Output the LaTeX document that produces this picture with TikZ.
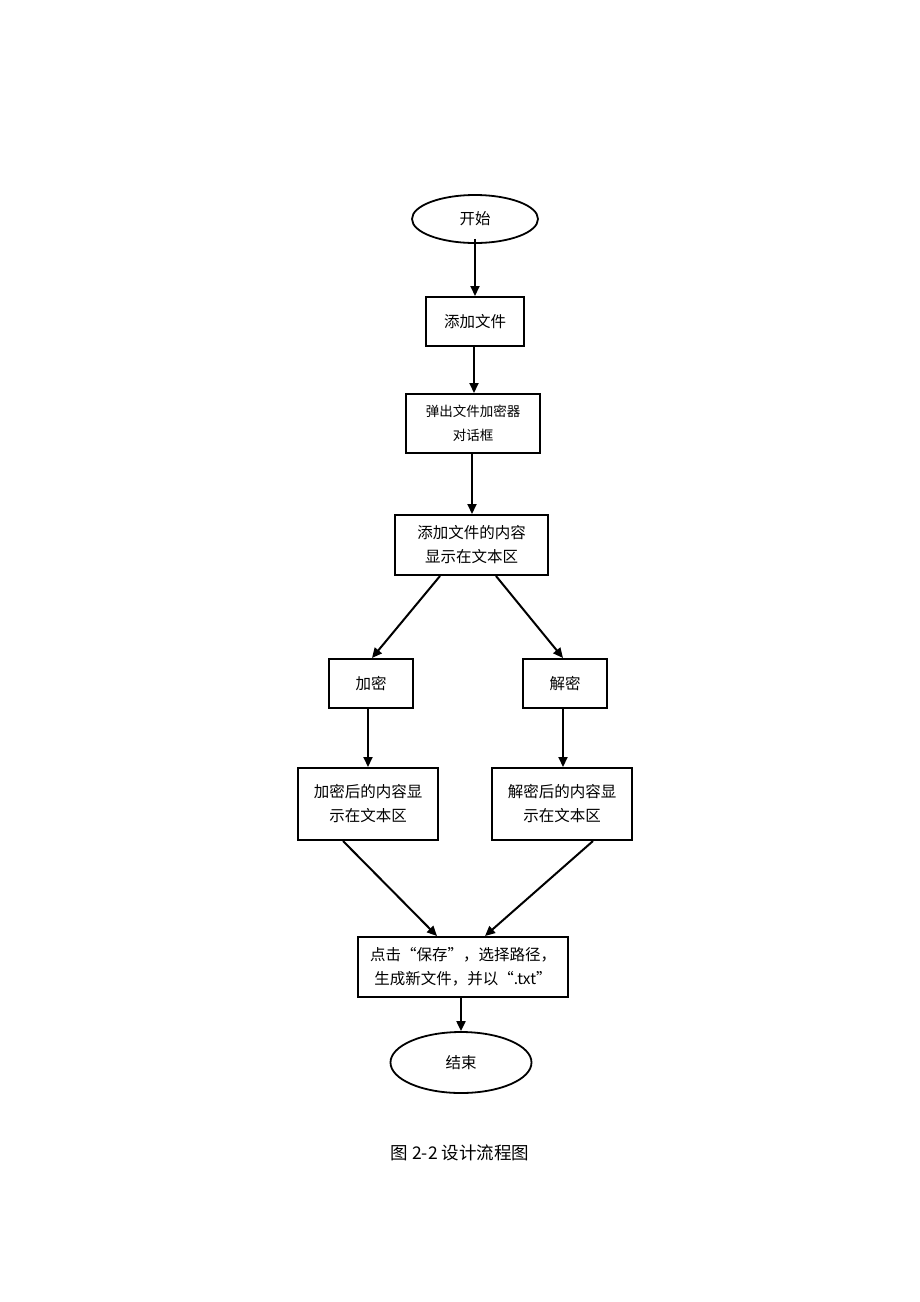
\documentclass[tikz,border=0pt]{standalone}
\usepackage{fontspec}
\setmainfont{Noto Sans CJK SC}
\usetikzlibrary{shapes.geometric,arrows.meta}
\tikzset{
  box/.style={draw,line width=2pt,align=center,inner sep=0pt,font=\fontsize{15.5}{24}\selectfont},
  term/.style={draw,ellipse,line width=1.8pt,inner sep=0pt,font=\fontsize{15.5}{24}\selectfont},
  arr/.style={line width=2pt,-{Triangle[length=10pt,width=9pt]}}
}
\begin{document}
\begin{tikzpicture}[x=1pt,y=-1pt]
\useasboundingbox[fill=white] (0,0) rectangle (920,1302);
\node[term,minimum width=126pt,minimum height=48pt] (start) at (475,219) {开始};
\node[box,minimum width=98pt,minimum height=49pt] (add) at (475,321.5) {添加文件};
\node[box,minimum width=134pt,minimum height=59pt,font=\fontsize{13.5}{24}\selectfont] (dlg) at (473,423.5) {弹出文件加密器\\对话框};
\node[box,minimum width=153pt,minimum height=60pt] (show) at (471.5,545) {添加文件的内容\\显示在文本区};
\node[box,minimum width=84pt,minimum height=49pt] (enc) at (371,683.5) {加密};
\node[box,minimum width=84pt,minimum height=49pt] (dec) at (565,683.5) {解密};
\node[box,minimum width=140pt,minimum height=72pt] (encs) at (368,804) {加密后的内容显\\示在文本区};
\node[box,minimum width=140pt,minimum height=72pt] (decs) at (562,804) {解密后的内容显\\示在文本区};
\node[box,minimum width=210pt,minimum height=60pt] (save) at (463,967) {点击“保存”，选择路径，\\生成新文件，并以“.txt”};
\node[term,minimum width=141pt,minimum height=61pt] (end) at (461,1062.5) {结束};
\node[font=\fontsize{17.5}{20}\selectfont] (cap) at (460,1153) {图 2-2 设计流程图};

\draw[arr] ([yshift=5pt]start.south) -- (add.north);
\draw[arr] ([xshift=-1pt]add.south) -- ([xshift=-1pt]add.south |- dlg.north);
\draw[arr] ([xshift=-1pt]dlg.south) -- ([xshift=-1pt]dlg.south |- show.north);
\draw[arr] ([xshift=-31.5pt]show.south) -- ([xshift=1pt]enc.north);
\draw[arr] ([xshift=24.5pt]show.south) -- ([xshift=-2pt]dec.north);
\draw[arr] ([xshift=-3pt]enc.south) -- ([xshift=-3pt]enc.south |- encs.north);
\draw[arr] ([xshift=-2pt]dec.south) -- ([xshift=-2pt]dec.south |- decs.north);
\draw[arr] ([xshift=-25pt]encs.south) -- ([xshift=-26pt]save.north);
\draw[arr] ([xshift=31pt]decs.south) -- ([xshift=22pt]save.north);
\draw[arr] ([xshift=-2pt]save.south) -- ([xshift=-2pt]save.south |- end.north);
\end{tikzpicture}
\end{document}
